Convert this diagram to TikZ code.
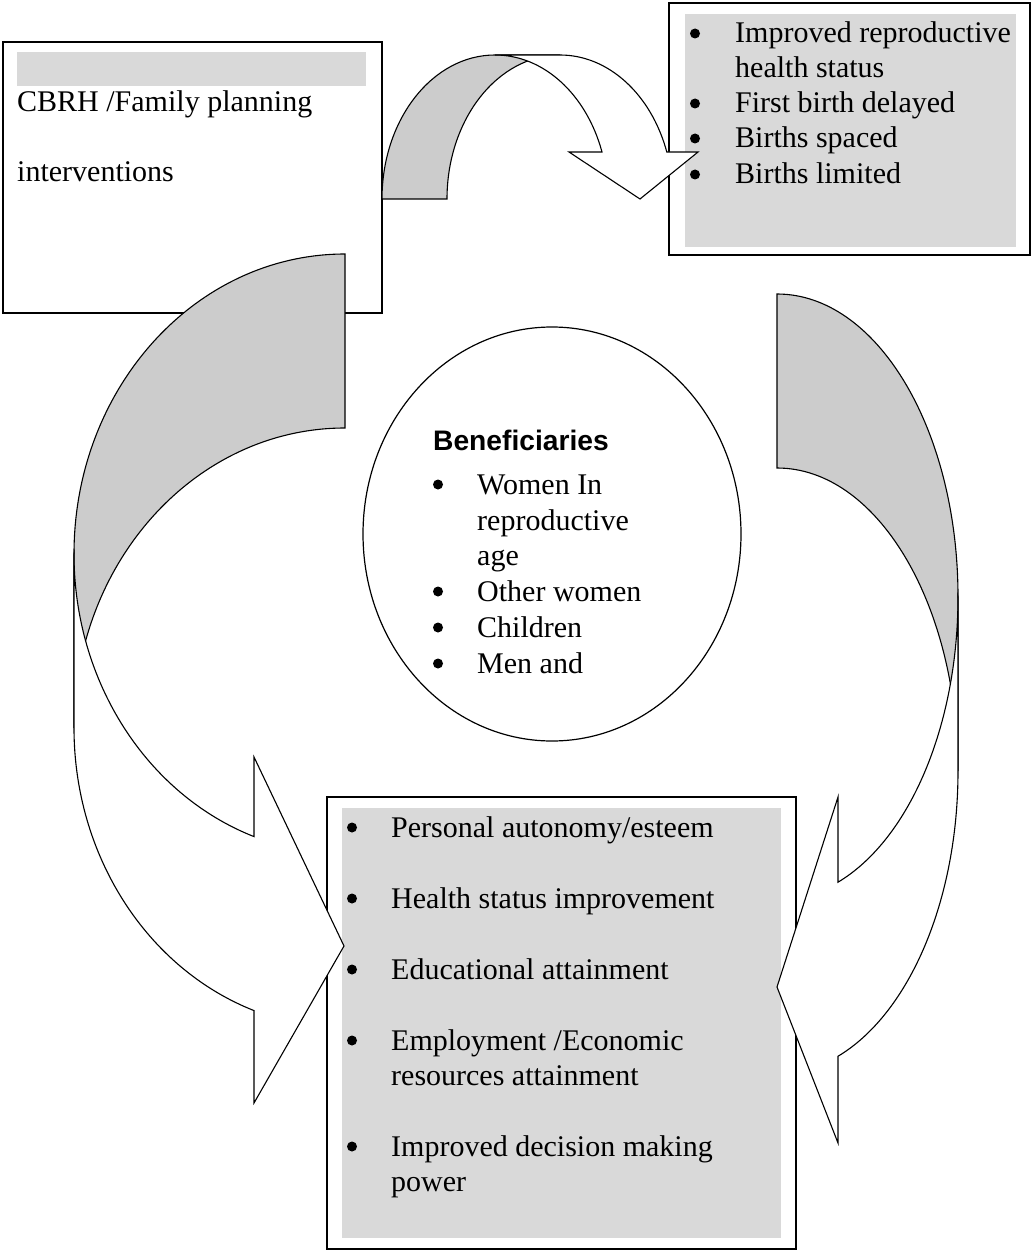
\documentclass[tikz,border=0pt]{standalone}
\usepackage{fontspec}
\setmainfont{Liberation Serif}
\newfontfamily\headfont{Liberation Sans}
\usetikzlibrary{shapes.geometric}
\definecolor{arrowgray}{HTML}{CCCCCC}
\definecolor{shadegray}{HTML}{D9D9D9}
\begin{document}
\begin{tikzpicture}[x=1pt, y=1pt,
  frame/.style={draw, line width=1.2pt, fill=white, inner sep=0},
  shadebox/.style={fill=shadegray, inner sep=0},
  back/.style={draw, fill=arrowgray, line width=1.1pt},
  front/.style={draw, fill=white, line width=1.1pt},
  txt/.style={anchor=base west, inner sep=0, font=\fontsize{30}{35}\selectfont},
  dot/.style={circle, fill, inner sep=0, minimum size=10}]
\useasboundingbox (0,0) rectangle (1032,-1252);

\node[frame, minimum width=379, minimum height=271] (planbox) at (192.5,-177.5){};
\node[shadebox, minimum width=349, minimum height=34] (planbar) at (191.5,-69){};
\node[txt] (plan1) at (17,-112){CBRH /Family planning};
\node[txt] (plan2) at (17,-182){interventions};

\node[frame, minimum width=361, minimum height=252] (outbox) at (849.5,-129){};
\node[shadebox, minimum width=331, minimum height=233] (outshade) at (850.5,-130.5){};
\node[dot] (ob1) at (695,-33.5){};
\node[txt] (out1) at (735,-43){Improved reproductive};
\node[txt] (out1b) at (735,-78){health status};
\node[dot] (ob2) at (695,-103.5){};
\node[txt] (out2) at (735,-113){First birth delayed};
\node[dot] (ob3) at (695,-138.5){};
\node[txt] (out3) at (735,-148){Births spaced};
\node[dot] (ob4) at (695,-174.5){};
\node[txt] (out4) at (735,-184){Births limited};

\node[draw, ellipse, line width=1.2pt, minimum width=378, minimum height=414, inner sep=0] (benef) at (552,-534){};
\node[anchor=base west, inner sep=0, font=\headfont\bfseries\fontsize{28.2}{33}\selectfont] (benefhead) at (433,-450){Beneficiaries};
\node[dot] (bb1) at (438,-484.5){};
\node[txt] (ben1) at (477,-494){Women In};
\node[txt] (ben1b) at (477,-530){reproductive};
\node[txt] (ben1c) at (477,-565){age};
\node[dot] (bb2) at (438,-591.5){};
\node[txt] (ben2) at (477,-601){Other women};
\node[dot] (bb3) at (438,-627.5){};
\node[txt] (ben3) at (477,-637){Children};
\node[dot] (bb4) at (438,-663.5){};
\node[txt] (ben4) at (477,-673){Men and};

\node[frame, minimum width=469, minimum height=452] (resbox) at (561.5,-1023){};
\node[shadebox, minimum width=439, minimum height=430] (resshade) at (561.5,-1023){};
\node[dot] (rb1) at (352,-827.5){};
\node[txt] (res1) at (391,-837){Personal autonomy/esteem};
\node[dot] (rb2) at (352,-898.5){};
\node[txt] (res2) at (391,-908){Health status improvement};
\node[dot] (rb3) at (352,-969.5){};
\node[txt] (res3) at (391,-979){Educational attainment};
\node[dot] (rb4) at (352,-1040.5){};
\node[txt] (res4) at (391,-1050){Employment /Economic};
\node[txt] (res4b) at (391,-1085){resources attainment};
\node[dot] (rb5) at (352,-1146.5){};
\node[txt] (res5) at (391,-1156){Improved decision making};
\node[txt] (res5b) at (391,-1191){power};

\draw[back] (382,-199) arc[start angle=180, end angle=90, x radius=113, y radius=144] -- (560,-55)
  arc[start angle=90, end angle=180, x radius=113, y radius=144] -- cycle;
\draw[front] (495,-55) -- (560,-55) arc[start angle=90, end angle=19.05, x radius=113, y radius=144]
  -- (698,-152) -- (640,-199) -- (569,-152) -- (602,-152)
  arc[start angle=19.05, end angle=90, x radius=113, y radius=144] -- cycle;

\draw[back] (345,-254) arc[start angle=90, end angle=180, x radius=271, y radius=300] -- (74,-728)
  arc[start angle=180, end angle=90, x radius=271, y radius=300] -- cycle;
\draw[front] (74,-554) -- (74,-728) arc[start angle=180, end angle=250.38, x radius=271, y radius=300]
  -- (254,-1103) -- (344,-946) -- (254,-757) -- (254,-836.6)
  arc[start angle=250.38, end angle=180, x radius=271, y radius=300] -- cycle;

\draw[back] (777,-294) arc[start angle=90, end angle=0, x radius=181, y radius=303] -- (958,-771)
  arc[start angle=0, end angle=90, x radius=181, y radius=303] -- cycle;
\draw[front] (958,-597) -- (958,-771) arc[start angle=0, end angle=-70.3, x radius=181, y radius=303]
  -- (838,-1143) -- (777,-987) -- (838,-797) -- (838,-882.2)
  arc[start angle=-70.3, end angle=0, x radius=181, y radius=303] -- cycle;
\end{tikzpicture}
\end{document}
